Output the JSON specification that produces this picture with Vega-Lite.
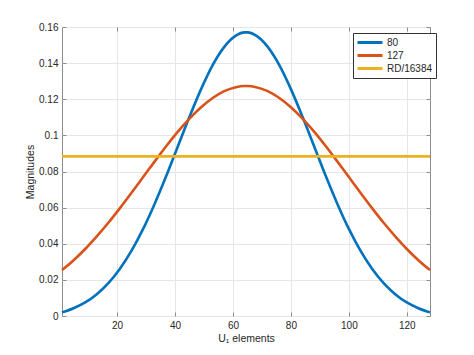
{
  "$schema": "https://vega.github.io/schema/vega-lite/v6.json",
  "width": 368,
  "height": 289,
  "autosize": {"type": "none"},
  "padding": {"left": 62, "top": 27, "right": 44, "bottom": 39},
  "background": "white",
  "config": {
    "view": {"stroke": "#8c8c8c", "strokeWidth": 1},
    "font": "Liberation Sans",
    "axis": {
      "domain": false,
      "labelFont": "Liberation Sans",
      "labelFontSize": 10,
      "labelColor": "#262626",
      "titleFont": "Liberation Sans",
      "titleFontSize": 10.5,
      "titleFontWeight": "normal",
      "titleColor": "#262626",
      "gridColor": "#e6e6e6",
      "gridWidth": 1,
      "tickColor": "#8c8c8c",
      "tickSize": -4,
      "labelPadding": 8
    },
    "legend": {"labelFont": "Liberation Sans"}
  },
  "data": {
    "values": [
      {"x": 1, "v": 0.0020, "s": "80"}, {"x": 5, "v": 0.0043, "s": "80"}, {"x": 9, "v": 0.0075, "s": "80"}, {"x": 13, "v": 0.0121, "s": "80"},
      {"x": 17, "v": 0.0182, "s": "80"}, {"x": 21, "v": 0.0262, "s": "80"}, {"x": 25, "v": 0.0362, "s": "80"}, {"x": 29, "v": 0.0482, "s": "80"},
      {"x": 33, "v": 0.0622, "s": "80"}, {"x": 37, "v": 0.0776, "s": "80"}, {"x": 41, "v": 0.0940, "s": "80"}, {"x": 45, "v": 0.1103, "s": "80"},
      {"x": 49, "v": 0.1256, "s": "80"}, {"x": 53, "v": 0.1389, "s": "80"}, {"x": 57, "v": 0.1490, "s": "80"}, {"x": 61, "v": 0.1552, "s": "80"},
      {"x": 64, "v": 0.1570, "s": "80"}, {"x": 65, "v": 0.1570, "s": "80"}, {"x": 68, "v": 0.1552, "s": "80"}, {"x": 72, "v": 0.1490, "s": "80"},
      {"x": 76, "v": 0.1389, "s": "80"}, {"x": 80, "v": 0.1256, "s": "80"}, {"x": 84, "v": 0.1103, "s": "80"}, {"x": 88, "v": 0.0940, "s": "80"},
      {"x": 92, "v": 0.0776, "s": "80"}, {"x": 96, "v": 0.0622, "s": "80"}, {"x": 100, "v": 0.0482, "s": "80"}, {"x": 104, "v": 0.0362, "s": "80"},
      {"x": 108, "v": 0.0262, "s": "80"}, {"x": 112, "v": 0.0182, "s": "80"}, {"x": 116, "v": 0.0121, "s": "80"}, {"x": 120, "v": 0.0075, "s": "80"},
      {"x": 124, "v": 0.0043, "s": "80"}, {"x": 128, "v": 0.0020, "s": "80"},
      {"x": 1, "v": 0.0254, "s": "127"}, {"x": 5, "v": 0.0309, "s": "127"}, {"x": 9, "v": 0.0371, "s": "127"}, {"x": 13, "v": 0.0441, "s": "127"},
      {"x": 17, "v": 0.0516, "s": "127"}, {"x": 21, "v": 0.0597, "s": "127"}, {"x": 25, "v": 0.0682, "s": "127"}, {"x": 29, "v": 0.0769, "s": "127"},
      {"x": 33, "v": 0.0856, "s": "127"}, {"x": 37, "v": 0.0941, "s": "127"}, {"x": 41, "v": 0.1021, "s": "127"}, {"x": 45, "v": 0.1093, "s": "127"},
      {"x": 49, "v": 0.1156, "s": "127"}, {"x": 53, "v": 0.1207, "s": "127"}, {"x": 57, "v": 0.1245, "s": "127"}, {"x": 61, "v": 0.1267, "s": "127"},
      {"x": 64, "v": 0.1273, "s": "127"}, {"x": 65, "v": 0.1273, "s": "127"}, {"x": 68, "v": 0.1267, "s": "127"}, {"x": 72, "v": 0.1245, "s": "127"},
      {"x": 76, "v": 0.1207, "s": "127"}, {"x": 80, "v": 0.1156, "s": "127"}, {"x": 84, "v": 0.1093, "s": "127"}, {"x": 88, "v": 0.1021, "s": "127"},
      {"x": 92, "v": 0.0941, "s": "127"}, {"x": 96, "v": 0.0856, "s": "127"}, {"x": 100, "v": 0.0769, "s": "127"}, {"x": 104, "v": 0.0682, "s": "127"},
      {"x": 108, "v": 0.0597, "s": "127"}, {"x": 112, "v": 0.0516, "s": "127"}, {"x": 116, "v": 0.0441, "s": "127"}, {"x": 120, "v": 0.0371, "s": "127"},
      {"x": 124, "v": 0.0309, "s": "127"}, {"x": 128, "v": 0.0254, "s": "127"},
      {"x": 1, "v": 0.0884, "s": "RD/16384"}, {"x": 32, "v": 0.0884, "s": "RD/16384"}, {"x": 64, "v": 0.0884, "s": "RD/16384"},
      {"x": 96, "v": 0.0884, "s": "RD/16384"}, {"x": 128, "v": 0.0884, "s": "RD/16384"}
    ]
  },
  "layer": [
    {
      "mark": {"type": "line", "strokeWidth": 2.6, "interpolate": "monotone"},
      "encoding": {
        "x": {
          "field": "x", "type": "quantitative",
          "scale": {"domain": [1, 128], "nice": false, "zero": false},
          "axis": {"values": [20, 40, 60, 80, 100, 120], "title": "U₁ elements", "grid": true, "titlePadding": 3}
        },
        "y": {
          "field": "v", "type": "quantitative",
          "scale": {"domain": [0, 0.16], "nice": false},
          "axis": {"values": [0, 0.02, 0.04, 0.06, 0.08, 0.1, 0.12, 0.14, 0.16], "format": "~g", "title": "Magnitudes", "grid": true, "titlePadding": 3}
        },
        "color": {
          "field": "s", "type": "nominal",
          "sort": ["80", "127", "RD/16384"],
          "scale": {"domain": ["80", "127", "RD/16384"], "range": ["#0072BD", "#D95319", "#EDB120"]},
          "legend": {
            "title": null,
            "orient": "none",
            "legendX": 291,
            "legendY": 6,
            "symbolType": "M-1,0H4",
            "symbolSize": 100,
            "symbolStrokeWidth": 3,
            "symbolFillColor": "transparent",
            "labelFontSize": 10,
            "labelColor": "#262626",
            "strokeColor": "#333333",
            "fillColor": "white",
            "padding": 3,
            "rowPadding": 0,
            "labelOffset": 18
          }
        }
      }
    },
    {
      "mark": {"type": "point", "opacity": 0},
      "encoding": {
        "x": {"field": "x", "type": "quantitative", "axis": {"orient": "top", "values": [20, 40, 60, 80, 100, 120], "labels": false, "title": null, "grid": false}},
        "y": {"field": "v", "type": "quantitative", "axis": {"orient": "right", "values": [0, 0.02, 0.04, 0.06, 0.08, 0.1, 0.12, 0.14, 0.16], "labels": false, "title": null, "grid": false}}
      }
    }
  ],
  "resolve": {"axis": {"x": "independent", "y": "independent"}}
}
